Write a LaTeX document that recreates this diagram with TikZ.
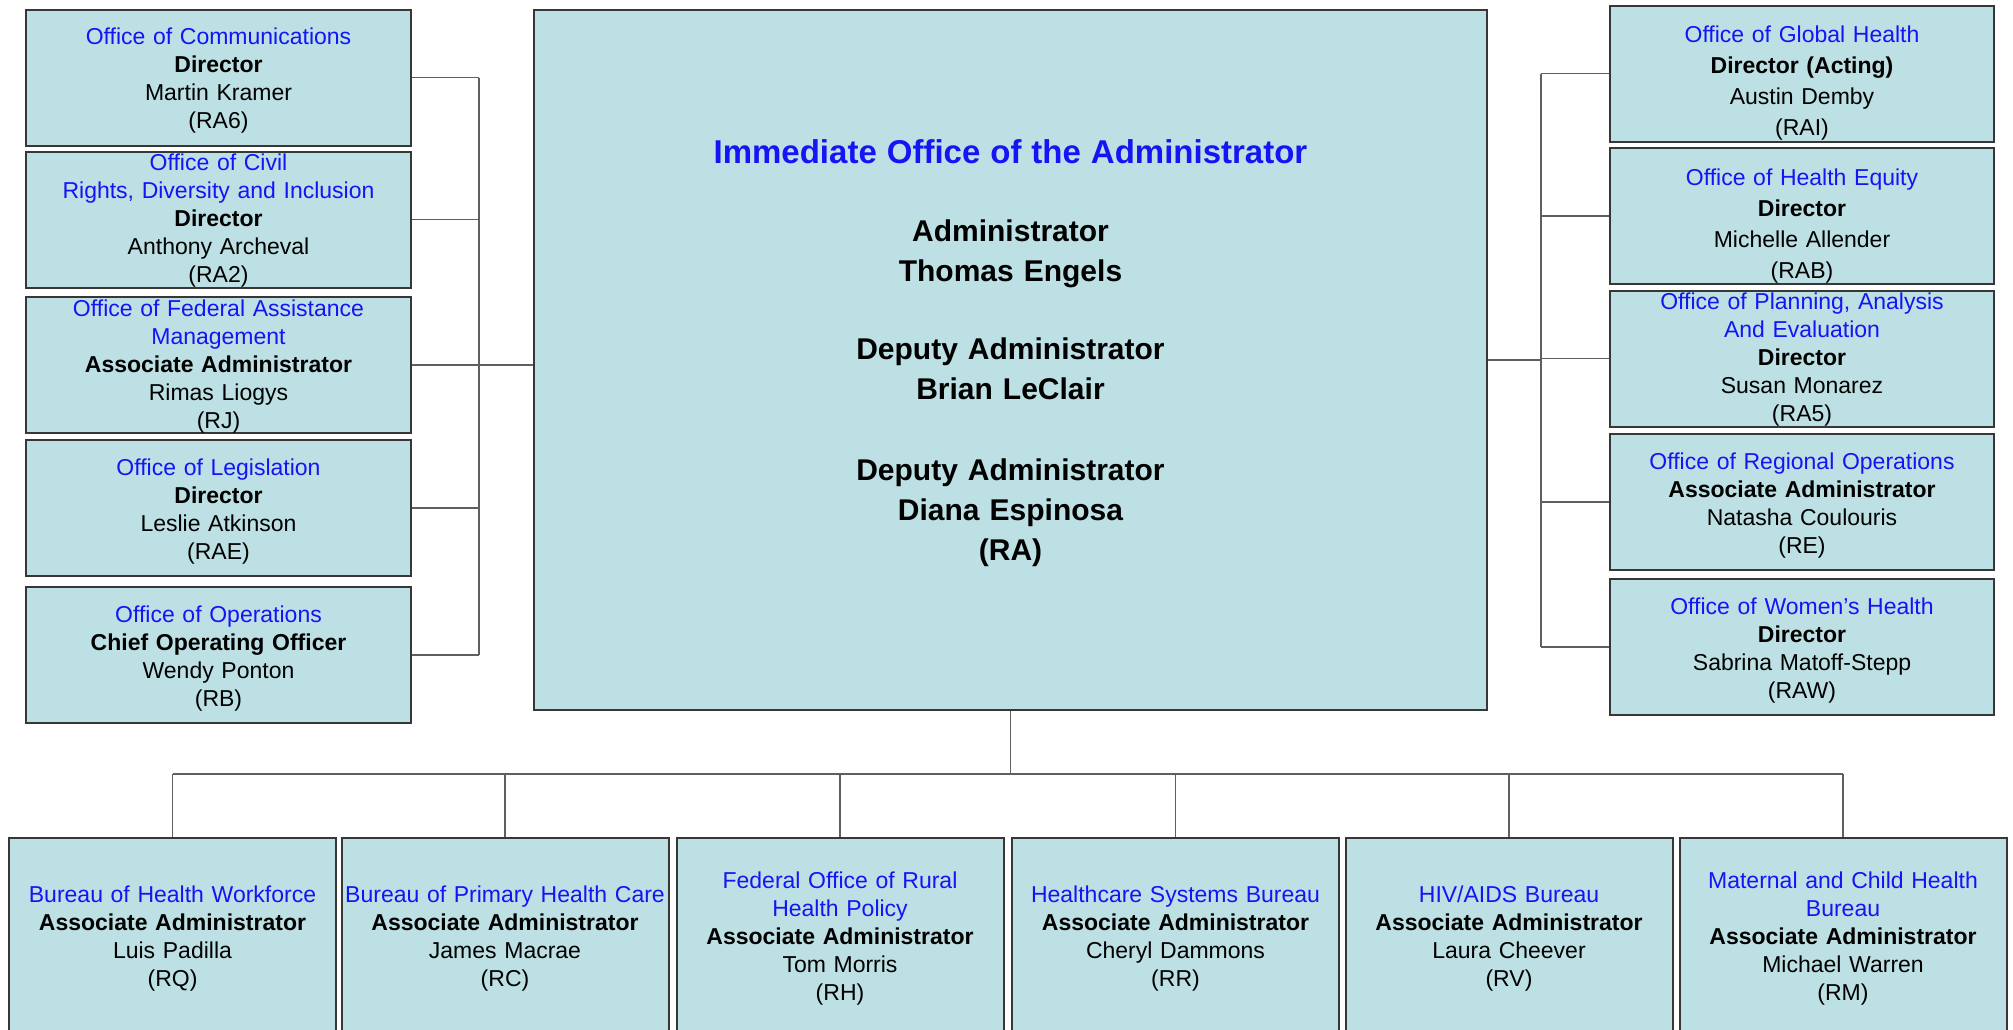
\documentclass[tikz,border=0pt]{standalone}
\usepackage{fontspec}
\setmainfont{Liberation Sans}
\definecolor{boxfill}{RGB}{188,224,227}
\definecolor{boxline}{RGB}{55,55,55}
\definecolor{linegray}{RGB}{95,95,95}
\definecolor{hrsablue}{RGB}{20,20,245}
\newcommand{\orgtext}[4]{{\color{hrsablue}#1}\\\textbf{#2}\\#3\\(#4)}
\begin{document}
\begin{tikzpicture}[x=1pt,y=-1pt,font=\fontsize{23}{28}\selectfont,
    box/.style={draw=boxline,line width=2pt,fill=boxfill,align=center,inner sep=0pt},
    office/.style={box,text width=380pt,text height=23pt,minimum width=385pt,minimum height=136pt},
    wide/.style={font=\fontsize{23}{31}\selectfont,text height=36pt},
    tall/.style={text height=19pt},
    bureau/.style={box,text width=325pt,minimum width=327pt,minimum height=202pt},
    link/.style={draw=linegray,line width=1.8pt}]
    \useasboundingbox (0,0) rectangle (2013,1029);

    \coordinate (lbus) at (479,0);
    \coordinate (rbus) at (1541,0);
    \coordinate (bbus) at (0,774);

    % immediate office
    \node[box,text width=950pt,text depth=416pt,minimum width=953pt,minimum height=700pt,font=\bfseries\fontsize{30}{40}\selectfont] (admin) at (1010.5,360)
        {{\color{hrsablue}\fontsize{33}{40}\selectfont Immediate Office of the Administrator}\\[38pt]
         Administrator\\Thomas Engels\\[38pt]
         Deputy Administrator\\Brian LeClair\\[41pt]
         Deputy Administrator\\Diana Espinosa\\(RA)};

    % left offices
    \node[office] (comm) at (218.5,77.5) {\orgtext{Office of Communications}{Director}{Martin Kramer}{RA6}};
    \node[office,tall] (civil) at (218.5,219.5) {\orgtext{Office of Civil\\Rights, Diversity and Inclusion}{Director}{Anthony Archeval}{RA2}};
    \node[office,tall] (fedasst) at (218.5,365) {\orgtext{Office of Federal Assistance\\Management}{Associate Administrator}{Rimas Liogys}{RJ}};
    \node[office] (legis) at (218.5,508) {\orgtext{Office of Legislation}{Director}{Leslie Atkinson}{RAE}};
    \node[office] (ops) at (218.5,655) {\orgtext{Office of Operations}{Chief Operating Officer}{Wendy Ponton}{RB}};

    % right offices
    \node[office,wide,minimum width=384pt] (global) at (1802,73.5) {\orgtext{Office of Global Health}{Director (Acting)}{Austin Demby}{RAI}};
    \node[office,wide,minimum width=384pt] (equity) at (1802,216) {\orgtext{Office of Health Equity}{Director}{Michelle Allender}{RAB}};
    \node[office,tall,minimum width=384pt] (planning) at (1802,358.5) {\orgtext{Office of Planning, Analysis\\And Evaluation}{Director}{Susan Monarez}{RA5}};
    \node[office,minimum width=384pt] (regional) at (1802,502) {\orgtext{Office of Regional Operations}{Associate Administrator}{Natasha Coulouris}{RE}};
    \node[office,minimum width=384pt] (women) at (1802,647) {\orgtext{Office of Women's Health}{Director}{Sabrina Matoff-Stepp}{RAW}};

    % bureaus
    \node[bureau] (bhw) at (172.5,939) {\orgtext{Bureau of Health Workforce}{Associate Administrator}{Luis Padilla}{RQ}};
    \node[bureau] (bphc) at (505,939) {\orgtext{Bureau of Primary Health Care}{Associate Administrator}{James Macrae}{RC}};
    \node[bureau] (forhp) at (840,939) {\orgtext{Federal Office of Rural\\Health Policy}{Associate Administrator}{Tom Morris}{RH}};
    \node[bureau] (hsb) at (1175.5,939) {\orgtext{Healthcare Systems Bureau}{Associate Administrator}{Cheryl Dammons}{RR}};
    \node[bureau] (hab) at (1509,939) {\orgtext{HIV/AIDS Bureau}{Associate Administrator}{Laura Cheever}{RV}};
    \node[bureau] (mchb) at (1843,939) {\orgtext{Maternal and Child Health\\Bureau}{Associate Administrator}{Michael Warren}{RM}};

    \foreach \o in {comm,civil,fedasst,legis,ops}
        \draw[link] (\o.east) -- (\o.east -| lbus);
    \draw[link] (comm.east -| lbus) -- (ops.east -| lbus);
    \draw[link] (fedasst.east -| lbus) -- (fedasst.east -| admin.west);

    \foreach \o in {global,equity,planning,regional,women}
        \draw[link] (\o.west) -- (\o.west -| rbus);
    \draw[link] (global.west -| rbus) -- (women.west -| rbus);
    \draw[link] (admin.east) -- (admin.east -| rbus);

    \draw[link] (admin.south) -- (admin.south |- bbus);
    \draw[link] (bhw.north |- bbus) -- (mchb.north |- bbus);
    \foreach \b in {bhw,bphc,forhp,hsb,hab,mchb}
        \draw[link] (\b.north |- bbus) -- (\b.north);
\end{tikzpicture}
\end{document}
